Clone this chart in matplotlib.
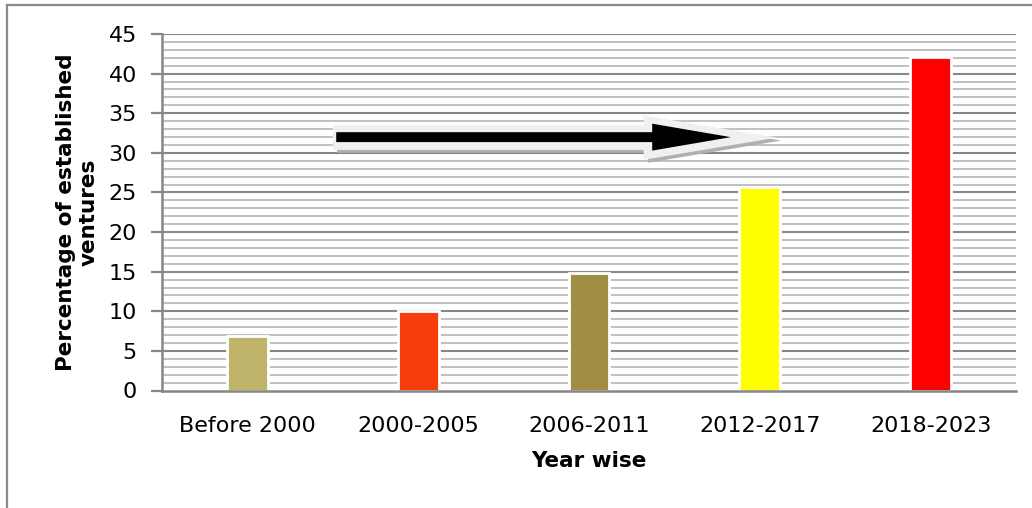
import matplotlib
matplotlib.use("Agg")
import matplotlib.pyplot as plt
from matplotlib.patches import FancyArrow
from matplotlib.lines import Line2D
import numpy as np

periods = ["Before 2000", "2000-2005", "2006-2011", "2012-2017", "2018-2023"]
share = [6.9, 10.0, 14.8, 25.7, 42.1]
bar_colors = ["#C0B46A", "#F83D0C", "#9F8E44", "#FFFF00", "#FF0000"]

plt.rcParams["font.family"] = ["DejaVu Sans"]

fig = plt.figure(figsize=(10.32, 5.08), dpi=100)
ax = fig.add_axes([162 / 1032, 1 - 390.5 / 508, 854 / 1032, 356.5 / 508])

x = np.arange(len(periods))
ax.set_xlim(-0.5, len(periods) - 0.5)
ax.set_ylim(0, 45)

# grid: light line every unit, darker every 5
for v in range(1, 45):
    if v % 5 == 0:
        continue
    ax.axhline(v, color="#C0C0C0", lw=1.4, zorder=1)
for v in range(5, 46, 5):
    ax.axhline(v, color="#878787", lw=1.5, zorder=1)

ax.bar(x, share, width=0.24, color=bar_colors, edgecolor="white",
       linewidth=2.0, zorder=3)

# trend arrow: grey shadow, pale outline, black core
ax.add_patch(FancyArrow(0.525, 31.55, 2.6, 0, width=3.1, head_width=5.6,
                        head_length=0.78, length_includes_head=True,
                        color="#B0B0B0", lw=0, zorder=4))
ax.add_patch(FancyArrow(0.50, 31.92, 2.6, 0, width=3.1, head_width=5.6,
                        head_length=0.78, length_includes_head=True,
                        color="#F0F0F0", lw=0, zorder=5))
ax.add_patch(FancyArrow(0.52, 31.98, 2.31, 0, width=1.25, head_width=3.4,
                        head_length=0.46, length_includes_head=True,
                        color="black", lw=0, zorder=6))

ax.set_yticks(range(0, 46, 5))
ax.set_xticks(x)
ax.set_xticklabels(periods)
ax.tick_params(axis="y", length=8, width=1.6, color="#878787",
               labelsize=16, pad=10)
ax.tick_params(axis="x", length=0, labelsize=16, pad=18)

for side in ["top", "right"]:
    ax.spines[side].set_visible(False)
for side in ["left", "bottom"]:
    ax.spines[side].set_color("#878787")
    ax.spines[side].set_linewidth(1.8)
    ax.spines[side].set_zorder(7)

ax.set_xlabel("Year wise", fontsize=15.5, fontweight="bold", labelpad=11)
ax.set_ylabel("Percentage of established\nventures", fontsize=15.5,
              fontweight="bold", linespacing=1.2)
ax.yaxis.set_label_coords(-63 / 854, 0.5)

# chart frame (top and left edges)
fig.add_artist(Line2D([7 / 1032, 7 / 1032], [0, 1 - 5 / 508],
                      color="#8A8A8A", lw=1.6))
fig.add_artist(Line2D([7 / 1032, 1], [1 - 5 / 508, 1 - 5 / 508],
                      color="#8A8A8A", lw=1.6))

fig.savefig("out.png", dpi=100)
